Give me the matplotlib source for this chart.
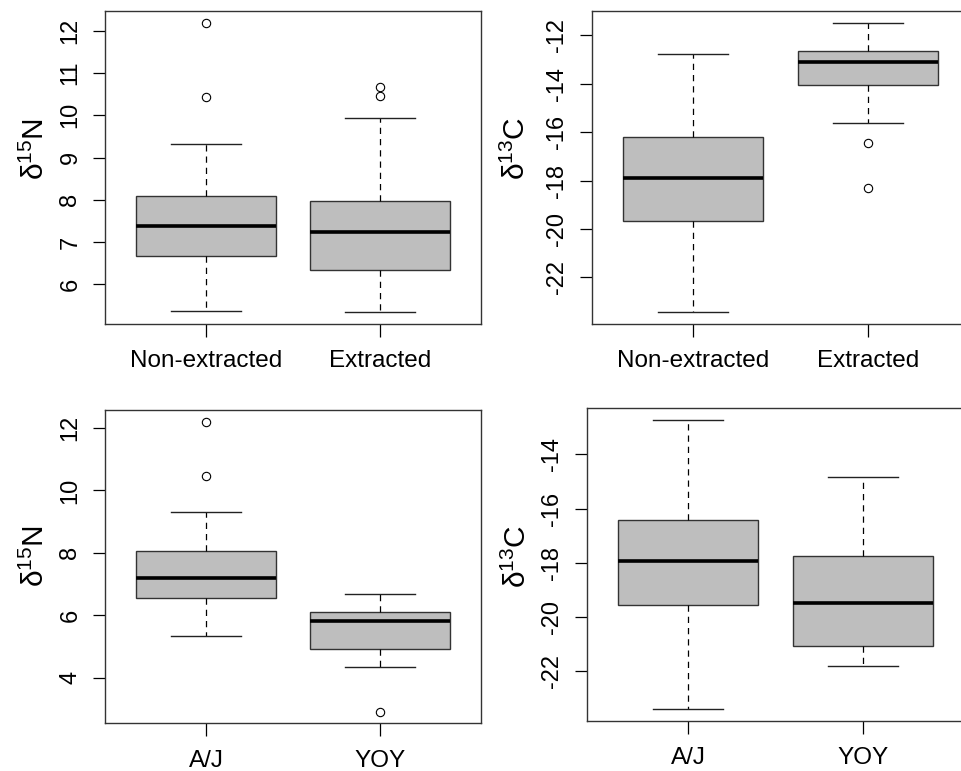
import matplotlib
matplotlib.use("Agg")
import matplotlib.pyplot as plt

plt.rcParams['font.family'] = ['Liberation Sans', 'DejaVu Sans']
plt.rcParams['mathtext.default'] = 'regular'

# box statistics
groups_top = ['Non-extracted', 'Extracted']
groups_bot = ['A/J', 'YOY']

n_top_lo = [5.37, 5.34]
n_top_q1 = [6.67, 6.34]
n_top_med = [7.38, 7.24]
n_top_q3 = [8.10, 7.98]
n_top_hi = [9.33, 9.93]
n_top_out = [[12.19, 10.44], [10.66, 10.46]]

c_top_lo = [-23.45, -15.63]
c_top_q1 = [-19.66, -14.04]
c_top_med = [-17.88, -13.10]
c_top_q3 = [-16.19, -12.63]
c_top_hi = [-12.77, -11.47]
c_top_out = [[], [-16.45, -18.29]]

n_bot_lo = [5.33, 4.35]
n_bot_q1 = [6.56, 4.93]
n_bot_med = [7.20, 5.82]
n_bot_q3 = [8.05, 6.11]
n_bot_hi = [9.31, 6.67]
n_bot_out = [[12.20, 10.45], [2.92]]

c_bot_lo = [-23.41, -21.81]
c_bot_q1 = [-19.56, -21.08]
c_bot_med = [-17.93, -19.47]
c_bot_q3 = [-16.42, -17.74]
c_bot_hi = [-12.72, -14.83]
c_bot_out = [[], []]

W, H = 961, 771
fig = plt.figure(figsize=(W / 100, H / 100), dpi=100)


def make_ax(left, top, right, bottom):
    return fig.add_axes([left / W, 1 - bottom / H, (right - left) / W, (bottom - top) / H])


def draw(ax, names, lo, q1, med, q3, hi, out, yticks, ylabel, lx, ly):
    stats = []
    for i in range(len(names)):
        stats.append(dict(whislo=lo[i], q1=q1[i], med=med[i], q3=q3[i],
                          whishi=hi[i], fliers=out[i], label=names[i]))
    ax.bxp(stats, positions=[1, 2], widths=0.8, patch_artist=True,
           boxprops=dict(facecolor='#bebebe', edgecolor='#333333', linewidth=1.0),
           medianprops=dict(color='black', linewidth=2.6, solid_capstyle='butt'),
           whiskerprops=dict(color='black', linewidth=0.9, linestyle=(0, (5, 4))),
           capprops=dict(color='#222222', linewidth=1.0),
           capwidths=0.4,
           flierprops=dict(marker='o', markerfacecolor='none', markeredgecolor='black',
                           markersize=6, markeredgewidth=0.8))
    vals = lo + hi + [v for o in out for v in o]
    span = max(vals) - min(vals)
    ax.set_ylim(min(vals) - 0.04 * span, max(vals) + 0.04 * span)
    ax.set_xlim(0.42, 2.58)
    ax.set_yticks(yticks)
    ax.set_yticklabels([str(t) for t in yticks])
    ax.tick_params(axis='y', labelrotation=90, length=9, width=0.9, pad=8, labelsize=17)
    ax.tick_params(axis='x', length=9, width=0.9, pad=10, labelsize=17.5)
    for lab in ax.get_yticklabels():
        lab.set_va('center')
    for s in ax.spines.values():
        s.set_color('#333333')
        s.set_linewidth(1.0)
    ax.set_ylabel(ylabel, fontsize=21.5, ha='center')
    ax.yaxis.set_label_coords(lx, ly)


ax1 = make_ax(105, 11, 481, 324)
draw(ax1, groups_top, n_top_lo, n_top_q1, n_top_med, n_top_q3, n_top_hi, n_top_out,
     [6, 7, 8, 9, 10, 11, 12], 'δ$^{15}$N', -0.145, 0.56)

ax2 = make_ax(591.7, 11, 969.7, 324)
draw(ax2, groups_top, c_top_lo, c_top_q1, c_top_med, c_top_q3, c_top_hi, c_top_out,
     [-22, -20, -18, -16, -14, -12], 'δ$^{13}$C', -0.16, 0.56)

ax3 = make_ax(105, 410, 481, 723.3)
draw(ax3, groups_bot, n_bot_lo, n_bot_q1, n_bot_med, n_bot_q3, n_bot_hi, n_bot_out,
     [4, 6, 8, 10, 12], 'δ$^{15}$N', -0.145, 0.535)

ax4 = make_ax(587, 408, 964, 721)
draw(ax4, groups_bot, c_bot_lo, c_bot_q1, c_bot_med, c_bot_q3, c_bot_hi, c_bot_out,
     [-22, -20, -18, -16, -14], 'δ$^{13}$C', -0.145, 0.525)

fig.savefig('out.png', dpi=100)
